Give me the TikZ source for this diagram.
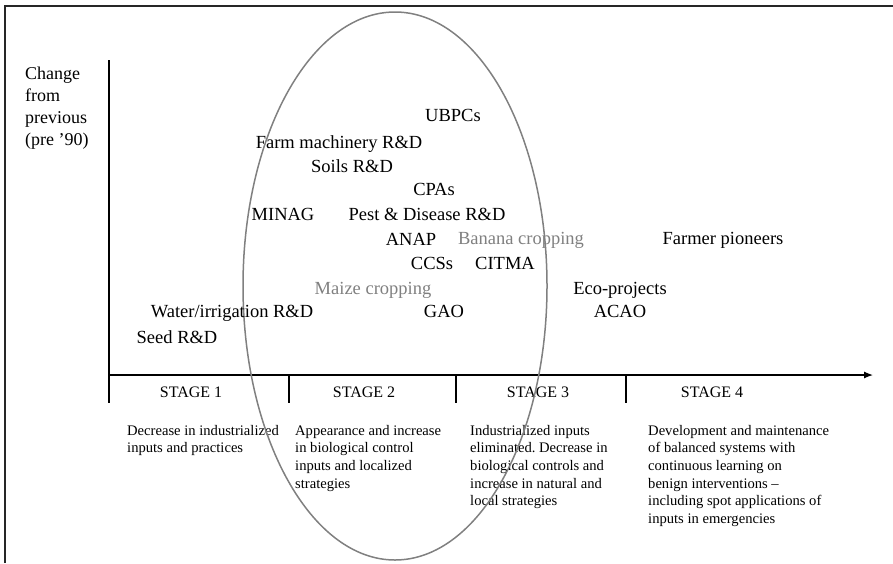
\documentclass[tikz,border=0pt]{standalone}
\usepackage{fontspec}
\setmainfont{Liberation Serif}
\usepackage{tikz}
\usetikzlibrary{arrows.meta}
\usetikzlibrary{positioning}
\frenchspacing
\tikzset{
    actor/.style = {font=\fontsize{18.5}{22}\selectfont,inner sep=0,anchor=base},
    crop/.style = {actor,text=black!50},
    stagelbl/.style = {font=\fontsize{16}{19}\selectfont,inner sep=0,anchor=base},
    stagetxt/.style = {font=\fontsize{14.6}{17.6}\selectfont,align=left,anchor=north west,inner sep=0},
    axis/.style = {line width=1.2pt},
    border/.style = {line width=2.4pt,black!85},
    phase/.style = {draw=black!50,line width=1.5pt}
}
\begin{document}
\begin{tikzpicture}[x=1pt,y=-1pt]
        \newcommand*\axy{375}
        \newcommand*\tickend{403}
        \useasboundingbox (0,0) rectangle (893,563);
        % Frame
        \draw[border] (5,563) -- (5,6) -- (893,6);
        % Axes
        \coordinate (origin) at (109,\axy);
        \coordinate (ytop) at (109,60);
        \coordinate (xend) at (873,\axy);
        \draw[axis] (ytop) -- (origin);
        \draw[axis,-{Latex[length=9pt,width=7pt]}] (origin) -- (xend);
        \node[font=\fontsize{18}{22}\selectfont,align=left,anchor=north west,inner sep=0]
            (ylabel) at (25,67) {Change\\from\\previous\\(pre '90)};
        % Stages
        \foreach \x/\c/\n in {109/191/1,289/364/2,456/538/3,626/712/4} {
            \coordinate (t\n) at (\x,\axy);
            \draw[axis] (t\n) -- (\x,\tickend);
            \node[stagelbl] (s\n) at (\c,397) {STAGE \n};
        }
        % Stage descriptions
        \node[stagetxt] (d1) at (127,425) {Decrease in industrialized\\inputs and practices};
        \node[stagetxt] (d2) at (295,425) {Appearance and increase\\in biological control\\inputs and localized\\strategies};
        \node[stagetxt] (d3) at (470,425) {Industrialized inputs\\eliminated. Decrease in\\biological controls and\\increase in natural and\\local strategies};
        \node[stagetxt] (d4) at (648,425) {Development and maintenance\\of balanced systems with\\continuous learning on\\benign interventions --\\including spot applications of\\inputs in emergencies};
        % Stage 2 ring
        \draw[phase] (395,286) ellipse [x radius=152, y radius=274];
        % Actors
        \node[actor] (ubpc) at (453,121) {UBPCs};
        \node[actor] (farm) at (339,148) {Farm machinery R\&D};
        \node[actor] (soil) at (352,172) {Soils R\&D};
        \node[actor] (cpa) at (434,195) {CPAs};
        \node[actor] (minag) at (283,220) {MINAG};
        \node[actor] (pest) at (427,220) {Pest \& Disease R\&D};
        \node[actor] (anap) at (411,245) {ANAP};
        \node[crop] (banana) at (521,244) {Banana cropping};
        \node[actor] (ccs) at (432,269) {CCSs};
        \node[actor] (citma) at (505,269) {CITMA};
        \node[crop] (maize) at (373,294) {Maize cropping};
        \node[actor] (water) at (232,317) {Water/irrigation R\&D};
        \node[actor] (gao) at (444,317) {GAO};
        \node[actor] (seed) at (177,343) {Seed R\&D};
        \node[actor] (pioneer) at (723,244) {Farmer pioneers};
        \node[actor] (eco) at (620,294) {Eco-projects};
        \node[actor] (acao) at (620,317) {ACAO};
    \end{tikzpicture}
\end{document}
